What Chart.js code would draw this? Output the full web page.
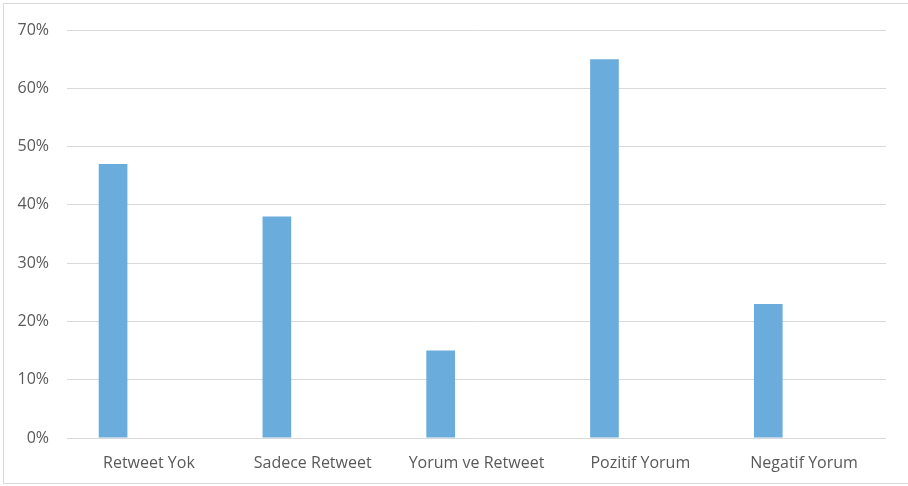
<!DOCTYPE html>
<html>
<head>
<meta charset="utf-8">
<script src="https://cdn.jsdelivr.net/npm/chart.js@4"></script>
<style>
    html, body { margin: 0; padding: 0; background: #fff; }
    #wrap { position: relative; width: 908px; height: 486px; overflow: hidden; }
    #frame { position: absolute; left: 3px; top: 3px; width: 910px; height: 481px; border: 1px solid #d9d9d9; box-sizing: border-box; }
    canvas { position: absolute; left: 0; top: 0; }
</style>
</head>
<body>
<div id="wrap">
    <div id="frame"></div>
    <canvas id="chart" width="908" height="486"></canvas>
</div>
<script>
// Data
const categories = ['Retweet Yok', 'Sadece Retweet', 'Yorum ve Retweet', 'Pozitif Yorum', 'Negatif Yorum'];
const shares = [47, 38, 15, 65, 23];
// empty second series (the original keeps a blank slot next to each bar)
const blankSeries = [null, null, null, null, null];
const yTicks = [0, 10, 20, 30, 40, 50, 60, 70];

const labelFont = { family: '"Open Sans", sans-serif', size: 16 };
const textColor = '#595959';

const ctx = document.getElementById('chart').getContext('2d');
new Chart(ctx, {
    type: 'bar',
    data: {
        labels: categories,
        datasets: [
            { label: 'Oran', data: shares, backgroundColor: '#6aacdc', borderWidth: 0 },
            { label: '', data: blankSeries, backgroundColor: 'transparent', borderWidth: 0 }
        ]
    },
    options: {
        responsive: false,
        animation: false,
        categoryPercentage: 0.875,
        barPercentage: 0.4,
        layout: { padding: { left: 0, top: 30, right: 22, bottom: 0 } },
        plugins: { legend: { display: false }, tooltip: { enabled: false } },
        scales: {
            x: {
                grid: { display: false, drawTicks: false },
                border: { display: false },
                ticks: { color: textColor, font: labelFont, padding: 16, maxRotation: 0 },
                afterFit: (scale) => { scale.height = 48; }
            },
            y: {
                min: 0,
                max: yTicks[yTicks.length - 1],
                afterBuildTicks: (scale) => { scale.ticks = yTicks.map(v => ({ value: v })); },
                grid: { color: '#d9d9d9', lineWidth: 1, drawTicks: false },
                border: { display: false },
                ticks: { color: textColor, font: labelFont, padding: 18, callback: (v) => v + '%' },
                afterFit: (scale) => { scale.width = 67; }
            }
        }
    }
});
</script>
</body>
</html>
